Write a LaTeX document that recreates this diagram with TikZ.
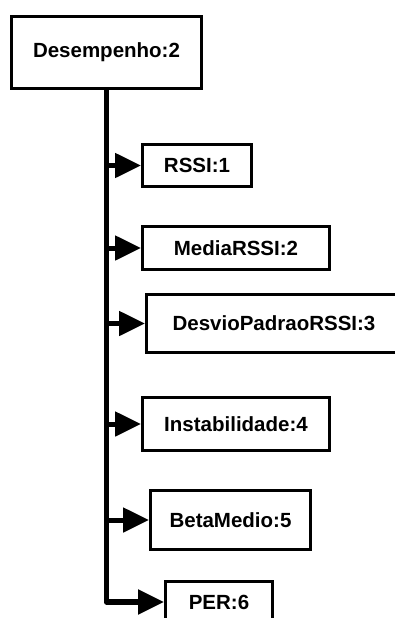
\documentclass[tikz,border=0pt]{standalone}
\usepackage{fontspec}
\setmainfont{Liberation Sans}
\usetikzlibrary{arrows.meta}
\tikzset{
  box/.style={draw=black, line width=3pt, fill=white, inner sep=0pt, font=\fontsize{20.5}{24}\selectfont\bfseries},
  trunk/.style={line width=5.5pt, line join=round, -{Triangle[length=26pt,width=24pt]}},
  branch/.style={line width=5pt, -{Triangle[length=26pt,width=24pt]}}
}
\begin{document}
\begin{tikzpicture}[x=1pt,y=-1pt]
\clip (0,0) rectangle (395,618);
\fill[white] (0,0) rectangle (395,618);
\node[box, minimum width=190pt, minimum height=72pt] (top) at (106.5,52.5) {Desempenho:2};
\node[box, minimum width=109pt, minimum height=42pt] (rssi) at (197,165.5) {RSSI:1};
\node[box, minimum width=187pt, minimum height=43pt] (media) at (236,248) {MediaRSSI:2};
\node[box, minimum width=255pt, minimum height=58pt] (desvio) at (274,323.5) {DesvioPadraoRSSI:3};
\node[box, minimum width=187pt, minimum height=53pt] (inst) at (236,424) {Instabilidade:4};
\node[box, minimum width=160pt, minimum height=59pt] (beta) at (230.5,520) {BetaMedio:5};
\node[box, minimum width=107pt, minimum height=41pt] (per) at (219,602) {PER:6};
\draw[trunk] (top.south) |- (per.west);
\draw[branch] (top.south |- rssi.west) -- (rssi.west);
\draw[branch] (top.south |- media.west) -- (media.west);
\draw[branch] (top.south |- desvio.west) -- (desvio.west);
\draw[branch] (top.south |- inst.west) -- (inst.west);
\draw[branch] (top.south |- beta.west) -- (beta.west);
\end{tikzpicture}
\end{document}
